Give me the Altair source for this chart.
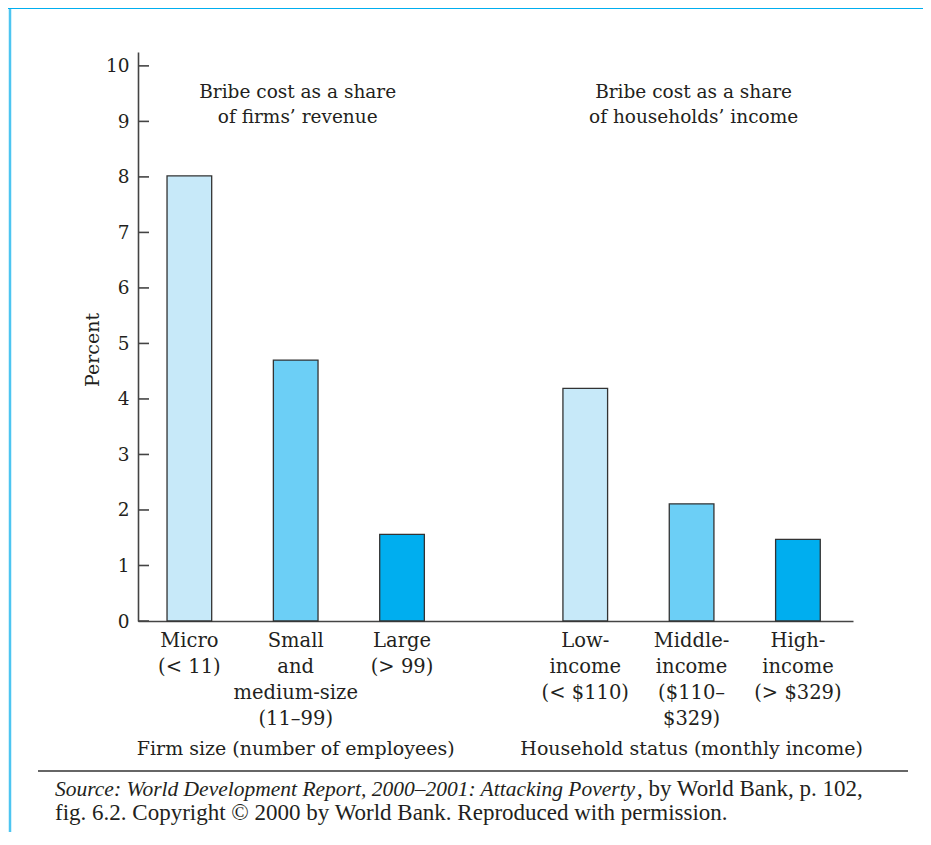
import altair as alt
import pandas as pd

# ---- data ----
groups = ["firms", "households"]
bar_group = ["firms", "firms", "firms", "households", "households", "households"]
bar_rank = ["r0", "r1", "r2", "r0", "r1", "r2"]
bar_labels = [
    "Micro\n(< 11)",
    "Small\nand\nmedium-size\n(11–99)",
    "Large\n(> 99)",
    "Low-\nincome\n(< $110)",
    "Middle-\nincome\n($110–\n$329)",
    "High-\nincome\n(> $329)",
]
values = [8.02, 4.70, 1.56, 4.19, 2.11, 1.47]
panel_titles = ["Bribe cost as a share\nof firms’ revenue",
                "Bribe cost as a share\nof households’ income"]
group_titles = ["Firm size (number of employees)",
                "Household status (monthly income)"]
y_ticks = list(range(11))
source_italic = "Source: World Development Report, 2000–2001: Attacking Poverty"
source_plain1 = ", by World Bank, p. 102,"
source_line2 = "fig. 6.2. Copyright © 2000 by World Bank. Reproduced with permission."

ranks = ["r0", "r1", "r2"]
colors = ["#c7e9f9", "#6ccff6", "#00aeef"]
INK = "#231f20"
SERIF = "DejaVu Serif"
W, H = 715, 569

bars_df = pd.DataFrame({"group": bar_group, "rank": bar_rank,
                        "label": bar_labels, "value": values})
titles_df = pd.DataFrame({"group": groups, "ptitle": panel_titles,
                          "gtitle": group_titles})
ticks_df = pd.DataFrame({"t": y_ticks})
one_df = pd.DataFrame({"k": [0]})

x_enc = alt.X("group:N", scale=alt.Scale(domain=groups, paddingInner=0.35,
                                          paddingOuter=0.078, align=0.47),
              axis=alt.Axis(labels=False, ticks=False, title=None,
                            domainColor="#444444", domainWidth=1.6))
xo_enc = alt.XOffset("rank:N", scale=alt.Scale(domain=ranks, paddingInner=0.58,
                                                paddingOuter=0))
y_scale = alt.Scale(domain=[0, 10.25], nice=False)

bars = alt.Chart(bars_df).mark_bar(stroke="#333333", strokeWidth=1.3).encode(
    x=x_enc,
    xOffset=xo_enc,
    y=alt.Y("value:Q", scale=y_scale,
            axis=alt.Axis(values=y_ticks, format="d", ticks=False, tickSize=0,
                          grid=False, title=None, labelPadding=9, labelFont=SERIF,
                          labelFontSize=18.5, labelColor=INK,
                          domainColor="#444444", domainWidth=1.6)),
    color=alt.Color("rank:N", scale=alt.Scale(domain=ranks, range=colors), legend=None),
)

tick_rules = alt.Chart(ticks_df).mark_rule(color="#444444", strokeWidth=1.6).encode(
    x=alt.value(0), x2=alt.value(11),
    y=alt.Y("t:Q", scale=y_scale),
)

bar_text = alt.Chart(bars_df).mark_text(
    font=SERIF, fontSize=19.5, color=INK, lineBreak="\n", lineHeight=26,
    baseline="alphabetic", align="center").encode(
    x=alt.X("group:N"), xOffset=alt.XOffset("rank:N"),
    y=alt.value(595), text="label:N")

panel_text = alt.Chart(titles_df).mark_text(
    font=SERIF, fontSize=18.5, color=INK, lineBreak="\n", lineHeight=25,
    baseline="alphabetic", align="center", dx=2).encode(
    x=alt.X("group:N"), y=alt.value(46), text="ptitle:N")

group_text = alt.Chart(titles_df).mark_text(
    font=SERIF, fontSize=19, color=INK, baseline="alphabetic", align="center").encode(
    x=alt.X("group:N"), y=alt.value(703), text="gtitle:N")

y_title = alt.Chart(one_df).mark_text(
    font=SERIF, fontSize=19, color=INK, angle=270, baseline="middle",
    align="center").encode(
    x=alt.value(-45), y=alt.value(298), text=alt.value("Percent"))

bottom_rule = alt.Chart(one_df).mark_rule(color="#333333", strokeWidth=1.6).encode(
    x=alt.value(-100), x2=alt.value(770), y=alt.value(719))

src1 = alt.Chart(one_df).mark_text(
    font="Liberation Serif", fontSize=21.5, fontStyle="italic", color=INK,
    align="left", baseline="alphabetic").encode(
    x=alt.value(-83), y=alt.value(744), text=alt.value(source_italic))
src1b = alt.Chart(one_df).mark_text(
    font="Liberation Serif", fontSize=23, color=INK,
    align="left", baseline="alphabetic").encode(
    x=alt.value(499), y=alt.value(744), text=alt.value(source_plain1))
src2 = alt.Chart(one_df).mark_text(
    font="Liberation Serif", fontSize=23, color=INK,
    align="left", baseline="alphabetic").encode(
    x=alt.value(-83), y=alt.value(768), text=alt.value(source_line2))

left_border = alt.Chart(one_df).mark_rule(color="#4dc5f1", strokeWidth=2.5).encode(
    x=alt.value(-128), y=alt.value(-44), y2=alt.value(780))
top_band = alt.Chart(one_df).mark_rule(color="#00aeef", strokeWidth=2).encode(
    x=alt.value(-130), x2=alt.value(785), y=alt.value(-44))

chart = alt.layer(
    bars, tick_rules, bar_text, panel_text, group_text, y_title,
    bottom_rule, src1, src1b, src2, left_border, top_band,
).properties(
    width=W, height=H,
    autosize=alt.AutoSizeParams(type="none"),
    padding={"left": 130, "top": 44, "right": 70, "bottom": 211},
    background="white",
).configure_view(stroke=None)

chart.save("out.html", embed_options={"renderer": "svg", "actions": False})
